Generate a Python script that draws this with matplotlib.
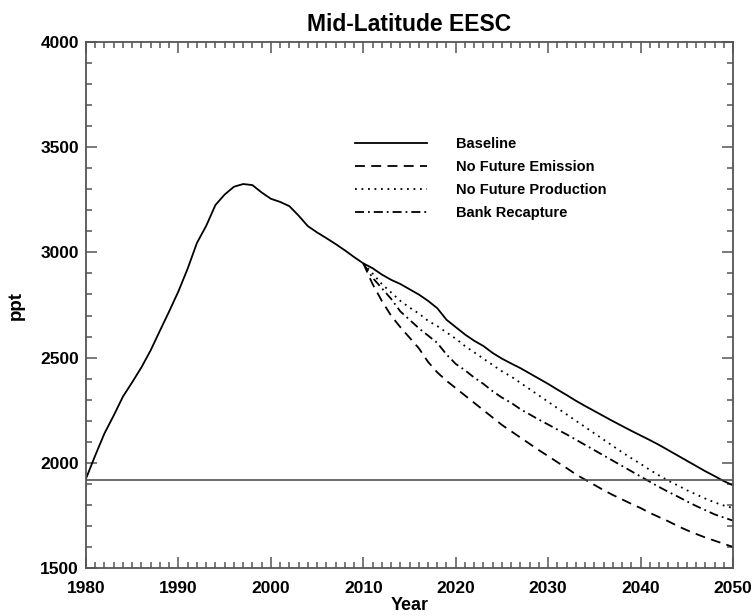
import matplotlib
matplotlib.use("Agg")
import matplotlib.pyplot as plt
from matplotlib.ticker import MultipleLocator

plt.rcParams['font.family'] = ['Liberation Sans', 'DejaVu Sans']

# values (ppt)
base_years = list(range(1980, 2051))
baseline = [1925, 2035, 2140, 2225, 2315, 2383, 2454, 2535, 2628, 2720,
            2815, 2923, 3045, 3126, 3225, 3275, 3312, 3325, 3320, 3285,
            3255, 3240, 3220, 3175, 3125, 3095, 3068, 3040, 3010, 2978,
            2948, 2925, 2895, 2870, 2850, 2825, 2800, 2770, 2735, 2680,
            2645, 2610, 2580, 2555, 2522, 2495, 2472, 2450, 2425, 2400,
            2375, 2348, 2322, 2295, 2270, 2246, 2222, 2198, 2175, 2152,
            2130, 2108, 2085, 2060, 2035, 2010, 1985, 1960, 1937, 1913,
            1893]

scen_years = list(range(2010, 2051))
no_future_emission = [2948, 2850, 2770, 2700, 2645, 2595, 2545, 2480, 2430, 2390,
                      2355, 2320, 2285, 2250, 2215, 2180, 2150, 2120, 2090, 2060,
                      2032, 2003, 1975, 1945, 1920, 1895, 1870, 1847, 1826, 1805,
                      1785, 1762, 1742, 1722, 1700, 1680, 1662, 1645, 1630, 1615,
                      1600]
no_future_production = [2948, 2900, 2850, 2810, 2770, 2738, 2710, 2675, 2650, 2620,
                        2590, 2555, 2525, 2495, 2465, 2435, 2410, 2380, 2350, 2320,
                        2290, 2260, 2230, 2200, 2170, 2140, 2110, 2080, 2050, 2022,
                        1995, 1966, 1940, 1915, 1893, 1870, 1850, 1830, 1812, 1797,
                        1785]
bank_recapture = [2948, 2880, 2830, 2780, 2720, 2680, 2640, 2605, 2570, 2515,
                  2470, 2440, 2405, 2375, 2340, 2310, 2285, 2255, 2230, 2205,
                  2182, 2158, 2135, 2110, 2085, 2060, 2035, 2010, 1985, 1960,
                  1935, 1910, 1885, 1862, 1840, 1817, 1795, 1775, 1755, 1740,
                  1725]
reference_level = 1920

fig = plt.figure(figsize=(7.55, 6.16), dpi=100)
ax = fig.add_axes([0.1139, 0.0779, 0.857, 0.8539])

lw = 1.3
ax.plot(base_years, baseline, color='black', lw=lw, label='Baseline')
ax.plot(scen_years, no_future_emission, color='black', lw=lw,
        linestyle=(0, (5.5, 3.5)), label='No Future Emission')
ax.plot(scen_years, no_future_production, color='black', lw=lw,
        linestyle=(0, (1, 2.6)), label='No Future Production')
ax.plot(scen_years, bank_recapture, color='black', lw=lw,
        linestyle=(0, (5, 2.2, 1, 2.2)), label='Bank Recapture')
ax.axhline(reference_level, color='#444444', lw=1.1)

ax.set_xlim(1980, 2050)
ax.set_ylim(1500, 4000)
ax.xaxis.set_major_locator(MultipleLocator(10))
ax.xaxis.set_minor_locator(MultipleLocator(1))
ax.yaxis.set_major_locator(MultipleLocator(500))
ax.yaxis.set_minor_locator(MultipleLocator(100))
ax.tick_params(which='both', direction='in', top=True, right=True,
               color='#555555', width=1.1)
ax.tick_params(which='major', length=8)
ax.tick_params(which='minor', length=4)
ax.tick_params(axis='x', which='major', pad=9, labelsize=12.5)
ax.tick_params(axis='y', which='major', pad=5, labelsize=12.5)
for lab in ax.get_xticklabels() + ax.get_yticklabels():
    lab.set_fontweight('bold')
for sp in ax.spines.values():
    sp.set_color('#555555')
    sp.set_linewidth(1.3)

ax.set_title('Mid-Latitude EESC', fontsize=16.5, fontweight='bold', pad=8)
ax.set_xlabel('Year', fontsize=13, fontweight='bold', labelpad=1)
ax.set_ylabel('ppt', fontsize=13.5, fontweight='bold', labelpad=11)

leg = ax.legend(loc='upper left', bbox_to_anchor=(0.4066, 0.8306), frameon=False,
                prop={'size': 10.5, 'weight': 'bold'}, handlelength=4.93,
                handletextpad=2.0, labelspacing=0.61, borderaxespad=0)

fig.savefig('out.png', dpi=100)
